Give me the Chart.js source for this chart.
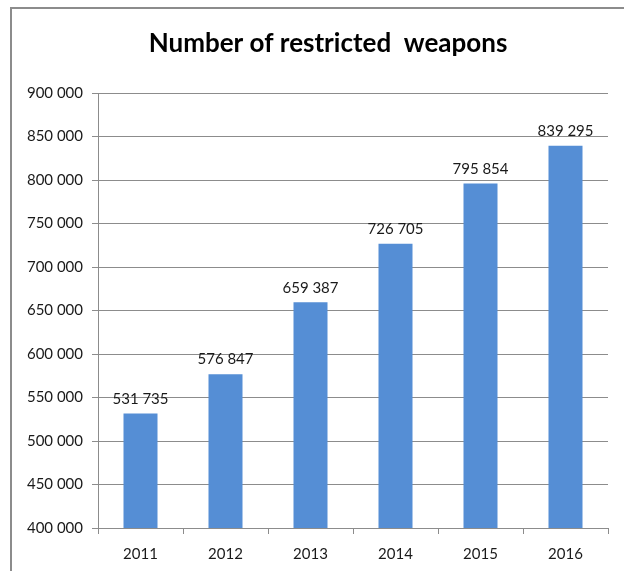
<!DOCTYPE html>
<html>
<head>
<meta charset="utf-8">
<script src="https://cdn.jsdelivr.net/npm/chart.js@4.4.1/dist/chart.umd.min.js"></script>
<style>
  html, body { margin: 0; padding: 0; background: #fff; }
  #frame {
    position: absolute; left: 10px; top: 7px;
    width: 612px; height: 564px;
    border-left: 2px solid #8c8c8c; border-top: 2px solid #8c8c8c;
  }
  #wrap { position: relative; width: 612px; height: 562px; }
</style>
</head>
<body>
<div id="frame"><div id="wrap"><canvas id="chart"></canvas></div></div>
<script>
// ── 数据 ──
var chartTitle = 'Number of restricted  weapons';
var years = ['2011', '2012', '2013', '2014', '2015', '2016'];
var weapons = [531735, 576847, 659387, 726705, 795854, 839295];
var yMin = 400000, yMax = 900000, yStep = 50000;

var FONT = 'Lato, "Open Sans", sans-serif';

function spaced(n) {
  return String(n).replace(/\B(?=(\d{3})+(?!\d))/g, ' ');
}

// ── 标题 + 柱顶数值 ──
var extraText = {
  id: 'extraText',
  afterDatasetsDraw: function(chart) {
    var ctx = chart.ctx;
    var meta = chart.getDatasetMeta(0);
    ctx.save();
    ctx.fillStyle = '#000';
    ctx.textAlign = 'center';
    ctx.textBaseline = 'middle';
    ctx.font = 'bold 26px ' + FONT;
    ctx.fillText(chartTitle, 316, 35);

    ctx.font = '15px ' + FONT;
    ctx.fillStyle = '#1a1a1a';
    ctx.textBaseline = 'bottom';
    meta.data.forEach(function(bar, i) {
      ctx.fillText(spaced(weapons[i]), bar.x, bar.y - 7);
    });
    ctx.restore();
  }
};

new Chart(document.getElementById('chart'), {
  type: 'bar',
  data: {
    labels: years,
    datasets: [{
      data: weapons,
      backgroundColor: '#558ed5',
      borderWidth: 0,
      barPercentage: 0.4,
      categoryPercentage: 1
    }]
  },
  options: {
    responsive: true, maintainAspectRatio: false,
    animation: false,
    layout: { padding: { top: 84, right: 16, bottom: 8, left: 0 } },
    plugins: {
      legend: { display: false },
      tooltip: { enabled: false },
      title: { display: false }
    },
    scales: {
      x: {
        grid: { drawOnChartArea: false, drawTicks: true, tickLength: 6, color: '#8c8c8c' },
        border: { color: '#8c8c8c' },
        ticks: { color: '#1a1a1a', font: { family: FONT, size: 15 }, padding: 11 },
        afterFit: function(s) { s.height = 35; }
      },
      y: {
        min: yMin, max: yMax,
        grid: { color: '#8c8c8c', tickLength: 6 },
        border: { color: '#8c8c8c' },
        ticks: {
          stepSize: yStep,
          color: '#1a1a1a',
          font: { family: FONT, size: 15 },
          padding: 9,
          callback: function(v) { return spaced(v); }
        },
        afterFit: function(s) { s.width = 86; }
      }
    }
  },
  plugins: [extraText]
});
</script>
</body>
</html>
